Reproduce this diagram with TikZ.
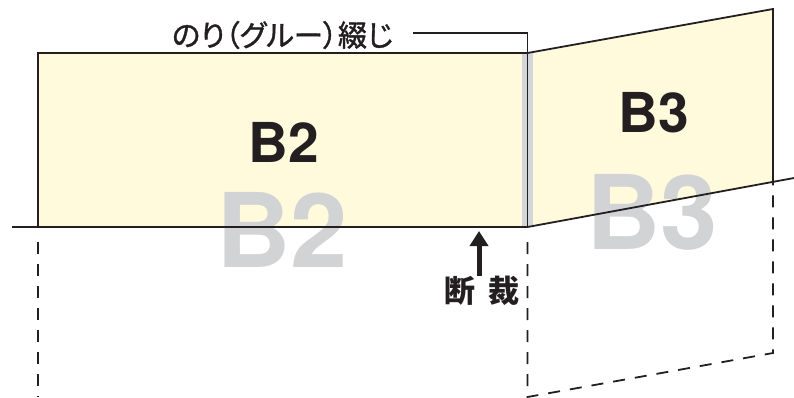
\documentclass[tikz,border=0pt]{standalone}
\usepackage{fontspec}
\newfontfamily\jpfont{Noto Sans CJK JP}
\newfontfamily\jpnote{Noto Sans CJK JP}[RawFeature=+palt,FakeBold=1.2]
\newfontfamily\latinfont{TeX Gyre Heros}
\usetikzlibrary{arrows.meta}
\definecolor{paper}{HTML}{FFFADC}
\definecolor{ghost}{HTML}{D1D3D4}
\definecolor{glue}{HTML}{D3D5D8}
\definecolor{ink}{HTML}{231F20}
\begin{document}
\begin{tikzpicture}[x=1pt,y=-1pt,
  edge/.style={ink,line width=1.8pt},
  trimline/.style={ink,line width=1.8pt,dash pattern=on 12pt off 10pt,dash phase=12pt,shorten <=5pt},
  sizelabel/.style={font=\latinfont\bfseries\fontsize{55}{55}\selectfont,text=ink,inner sep=0pt},
  ghostlabel/.style={font=\latinfont\bfseries\fontsize{103}{103}\selectfont,text=ghost,inner sep=0pt},
  notelabel/.style={font=\jpnote\fontsize{29.5}{29.5}\selectfont,text=ink,inner sep=0pt}]
\useasboundingbox (0,0) rectangle (794,397);

% Corners
\coordinate (b2nw) at (38,53);
\coordinate (b2sw) at (38,227);
\coordinate (b2ne) at (527.5,53);
\coordinate (b2se) at (527.5,227);
\coordinate (b3ne) at (773,9);
\coordinate (b3se) at (773,182);
\coordinate (floorstart) at (12,227);
\coordinate (floorend) at (794,178);
\coordinate (b2ext) at (38,397);
\coordinate (spineext) at (527.5,397);
\coordinate (b3ext) at (773,353);

% Sheets
\fill[paper] (b2nw) rectangle (b2se);
\fill[paper] (b2ne) -- (b3ne) -- (b3se) -- (b2se) -- cycle;
\fill[glue] (522,53) rectangle (533,227);

% Ghost sizes
\node[ghostlabel] (b2ghost) at (282,230) {B2};
\node[ghostlabel] (b3ghost) at (652,212) {B3};

% Outlines
\draw[edge] (floorstart) -- (b2se) -- (floorend);
\draw[edge] (b2sw) -- (b2nw) -- (b2ne) -- (b3ne) -- (b3se);
\draw[edge] (b2ne) -- (b2se);

% Trimmed parts
\draw[trimline] (b2sw) -- (b2ext);
\draw[trimline] (b2se) -- (spineext) -- (b3ext) -- (b3se);

% Sizes
\node[sizelabel] (b2name) at (284,142) {B2};
\node[sizelabel] (b3name) at (654,113) {B3};

% Glue binding note
\node[notelabel] (gluenote) at (282.5,35) {のり（グルー）綴じ};
\coordinate (leadstart) at (413,33);
\draw[ink,line width=1.2pt] (leadstart) -- (leadstart -| b2ne) -- (b2ne);

% Cut
\node[inner sep=0pt,text=ink,font=\jpfont\bfseries\fontsize{31}{31}\selectfont] (cutnote) at (482,291) {断\hspace{14pt}裁};
\coordinate (cuttip) at (479,231);
\draw[ink,line width=5pt,-{Triangle[width=18pt,length=15pt]}] (cutnote.north -| cuttip) -- (cuttip);
\end{tikzpicture}
\end{document}
